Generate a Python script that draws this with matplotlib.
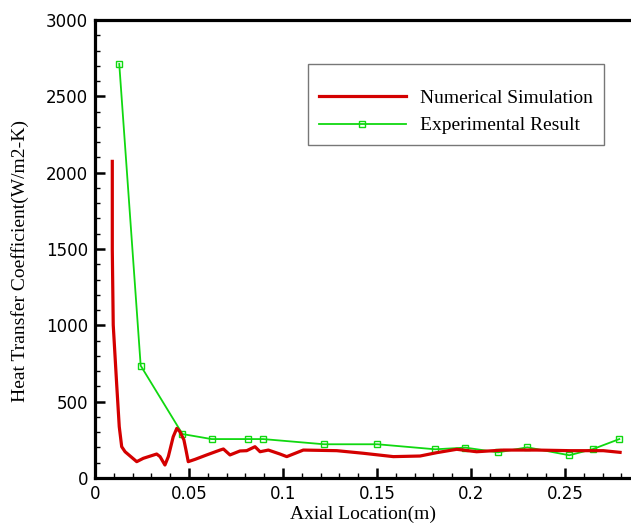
import matplotlib
matplotlib.use("Agg")
import matplotlib.pyplot as plt
from matplotlib.ticker import MultipleLocator

# numerical simulation profile along the tube
sim_x = [0.0092, 0.0092, 0.0097, 0.0115, 0.0129, 0.0142, 0.016, 0.0222, 0.0257,
         0.0328, 0.0346, 0.0372, 0.039, 0.0416, 0.0435, 0.0452, 0.0473, 0.0484,
         0.0496, 0.0532, 0.0594, 0.0665, 0.0683, 0.0718, 0.0771, 0.0807, 0.0851,
         0.0878, 0.0922, 0.0984, 0.102, 0.1108, 0.1286, 0.1427, 0.1587, 0.1729,
         0.1818, 0.1924, 0.203, 0.2172, 0.2349, 0.2527, 0.2704, 0.2793]
sim_h = [2074, 1493, 1002, 620, 336, 205, 172, 107, 129,
         157, 140, 85, 140, 270, 325, 303, 249, 183,
         107, 122, 151, 183, 190, 151, 177, 179, 205,
         172, 183, 157, 140, 183, 179, 162, 140, 144,
         166, 188, 172, 183, 183, 179, 179, 168]

# measured values
exp_x = [0.0129, 0.0243, 0.0465, 0.062, 0.0816, 0.0894, 0.1218, 0.1502,
         0.181, 0.197, 0.2144, 0.230, 0.2523, 0.265, 0.2789]
exp_h = [2712, 736, 288, 255, 255, 255, 221, 221,
         188, 199, 168, 201, 149, 190, 255]

x_ticks = [0, 0.05, 0.1, 0.15, 0.2, 0.25]
x_ticklabels = ["0", "0.05", "0.1", "0.15", "0.2", "0.25"]
y_ticks = [0, 500, 1000, 1500, 2000, 2500, 3000]

fig = plt.figure(figsize=(6.31, 5.26), dpi=100)
ax = fig.add_axes([95 / 631, 48 / 526, 536 / 631, 458 / 526])

ax.plot(sim_x, sim_h, color="#d40000", lw=2.3, label="Numerical Simulation", zorder=3)
ax.plot(exp_x, exp_h, color="#10d810", lw=1.3, marker="s", ms=5,
        mfc="none", mec="#10d810", mew=1.0, label="Experimental Result", zorder=2)

ax.set_xlim(0, 536 / 1880)
ax.set_ylim(0, 3000)
ax.set_xticks(x_ticks)
ax.set_xticklabels(x_ticklabels)
ax.set_yticks(y_ticks)
ax.xaxis.set_minor_locator(MultipleLocator(0.01))
ax.yaxis.set_minor_locator(MultipleLocator(100))

ax.spines["right"].set_visible(False)
for s in ("left", "bottom", "top"):
    ax.spines[s].set_linewidth(2.3)

ax.tick_params(which="major", direction="in", length=7.5, width=1.8,
               labelsize=12, pad=5)
ax.tick_params(which="minor", direction="in", length=3.6, width=1.0)

ax.set_xlabel("Axial Location(m)", family="Liberation Serif", fontsize=14, labelpad=2)
ax.set_ylabel("Heat Transfer Coefficient(W/m2-K)", family="Liberation Serif", fontsize=14)
ax.yaxis.set_label_coords(-0.123, 0.474)

leg = ax.legend(loc="upper left", bbox_to_anchor=((308 - 95) / 536, (478 - 64) / 458),
                prop={"family": "Liberation Serif", "size": 14},
                title=" ", title_fontsize=4,
                frameon=True, fancybox=False, edgecolor="#555555",
                handlelength=4.5, handletextpad=0.72, borderpad=0.55,
                labelspacing=0.5, borderaxespad=0)
leg.get_frame().set_linewidth(1.0)

fig.savefig("out.png", dpi=100)
